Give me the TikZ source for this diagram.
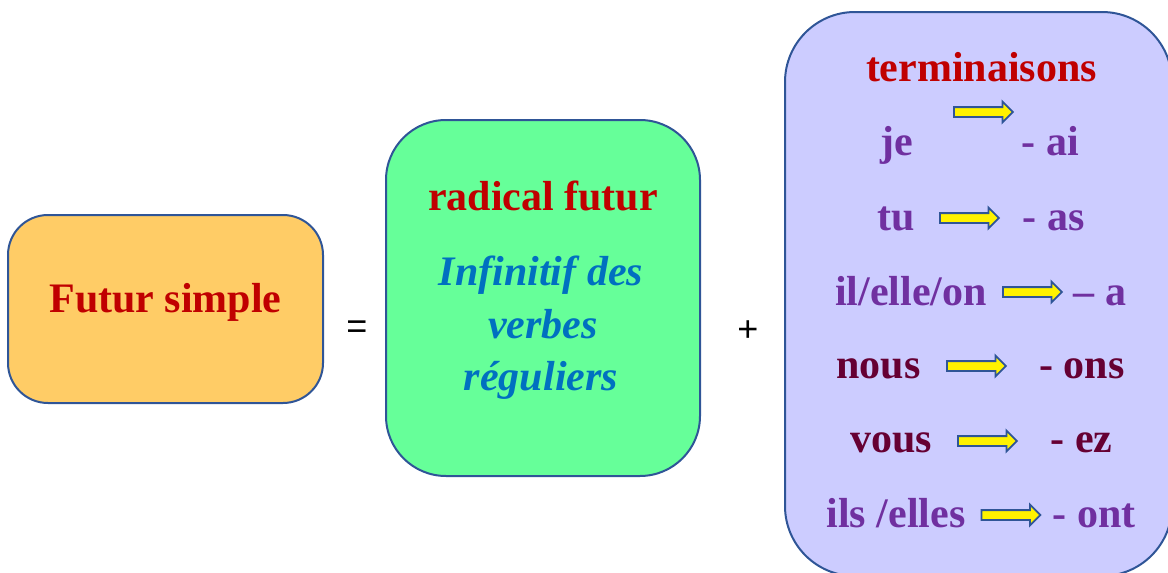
\documentclass[tikz,border=0pt]{standalone}
\usepackage{fontspec}
\setmainfont{Liberation Serif}
\newfontfamily\signefont{Liberation Sans}
\usetikzlibrary{shapes.arrows, positioning}
\definecolor{bordbleu}{RGB}{47,85,151}
\definecolor{orangeclair}{RGB}{255,204,102}
\definecolor{vertclair}{RGB}{102,255,153}
\definecolor{mauveclair}{RGB}{204,204,255}
\definecolor{rougetitre}{RGB}{192,0,0}
\definecolor{bleutexte}{RGB}{0,112,192}
\definecolor{pronviolet}{RGB}{112,48,160}
\definecolor{bordeaux}{RGB}{102,0,51}
\tikzset{
  boite/.style={
    rectangle, draw=bordbleu, line width=2pt, fill=#1
  },
  fleche/.style={
    single arrow, draw=bordbleu, line width=1.8pt, fill=yellow,
    minimum height=59pt, inner xsep=0pt, inner ysep=4pt,
    single arrow head extend=5.5pt, single arrow head indent=0pt
  },
  mot/.style={
    anchor=base, font=\fontsize{42}{50}\selectfont\bfseries,
    text=pronviolet
  },
  signe/.style={font=\signefont\fontsize{36}{40}\selectfont}
}

\begin{document}
\begin{tikzpicture}[x=1pt, y=-1pt]

\clip (0,0) rectangle (1168,573);

% Boxes
\node[boite=orangeclair, rounded corners=40pt,
      minimum width=315pt, minimum height=188pt] (futur) at (165.5,309) {};
\node[boite=vertclair, rounded corners=60pt,
      minimum width=314pt, minimum height=356pt] (radical) at (543,298) {};
\node[boite=mauveclair, rounded corners=70pt,
      minimum width=387pt, minimum height=564pt] (termin) at (978.5,294) {};

% Left and middle texts
\node[mot, text=rougetitre] (tfutur) at (165.5,312) {Futur simple};
\node[mot, text=rougetitre] (trad) at (543,210) {radical futur};
\node[mot, text=bleutexte, font=\fontsize{42}{50}\selectfont\bfseries\itshape]
      (inf1) at (541,285) {Infinitif des};
\node[mot, text=bleutexte, font=\fontsize{42}{50}\selectfont\bfseries\itshape]
      (inf2) at (543,338) {verbes};
\node[mot, text=bleutexte, font=\fontsize{42}{50}\selectfont\bfseries\itshape]
      (inf3) at (541,390) {réguliers};

% Signs
\node[signe] (egal) at (357,330) {=};
\node[signe] (plus) at (748,331) {+};

% Endings
\node[mot, text=rougetitre] (tterm) at (981.5,81) {terminaisons};

\node[mot] (je) at (897,155) {je};
\node[fleche] (fje) at (981,112) {};
\node[mot] (ai) at (1050.5,155) {- ai};

\node[mot] (tu) at (896.5,230) {tu};
\node[fleche] (ftu) at (967,218) {};
\node[mot] (as) at (1053.5,230) {- as};

\node[mot] (il) at (911,305) {il/elle/on};
\node[fleche] (fil) at (1030,292) {};
\node[mot] (a) at (1100,305) {– a};

\node[mot, text=bordeaux] (nous) at (878.5,378) {nous};
\node[fleche] (fnous) at (974,366) {};
\node[mot, text=bordeaux] (ons) at (1082,378) {- ons};

\node[mot, text=bordeaux] (vous) at (891,452) {vous};
\node[fleche] (fvous) at (985,441) {};
\node[mot, text=bordeaux] (ez) at (1081.5,452) {- ez};

\node[mot] (ils) at (896,527) {ils /elles};
\node[fleche] (fils) at (1008.5,515) {};
\node[mot] (ont) at (1094,527) {- ont};

\end{tikzpicture}
\end{document}
